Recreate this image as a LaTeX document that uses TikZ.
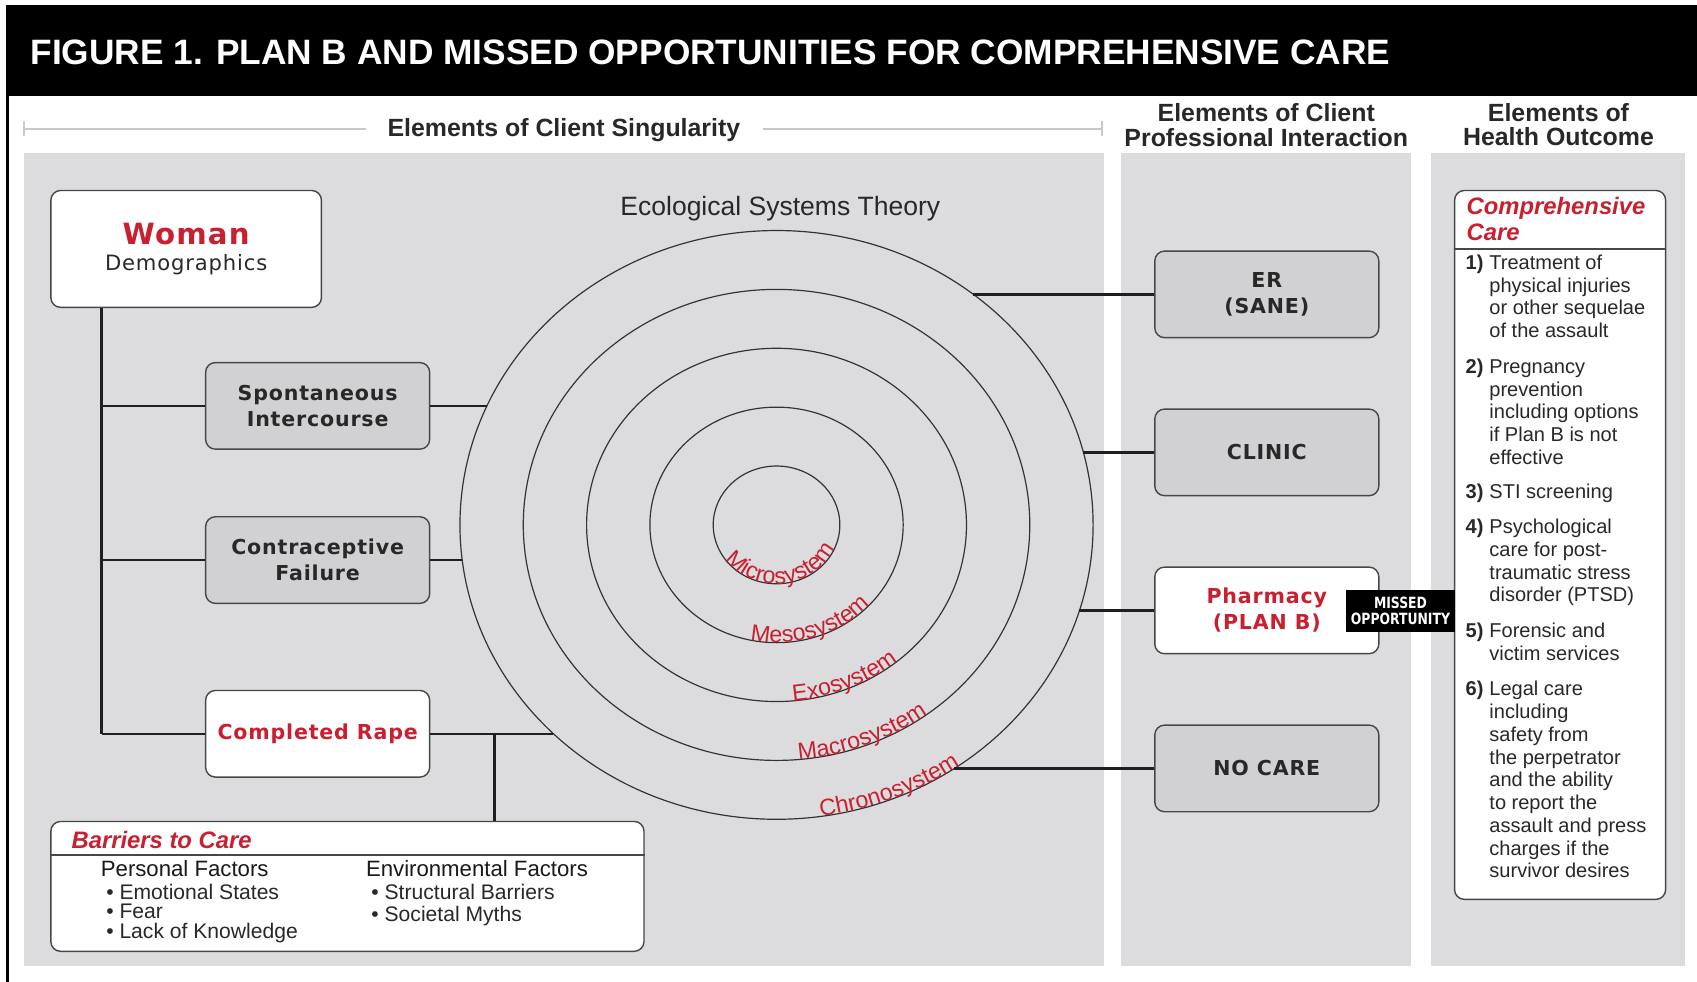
\documentclass[tikz,border=0pt]{standalone}
\usepackage{fontspec}
\usepackage{graphicx}
\setmainfont{Liberation Sans}
\newfontfamily\verd{DejaVu Sans}
\newfontfamily\verdsp[LetterSpace=4]{DejaVu Sans}
\usetikzlibrary{decorations.text}
\newcommand\fsx[2]{\fontsize{#1}{#2}\selectfont}
\definecolor{panel}{RGB}{220,220,222}
\definecolor{boxg}{RGB}{209,209,211}
\definecolor{redc}{RGB}{200,32,48}
\definecolor{lineg}{RGB}{200,200,200}
\definecolor{txt}{RGB}{40,40,40}
\tikzset{
  conn/.style={line width=2.3pt, draw=black!88},
  gbox/.style={draw=black!72, line width=1.3pt, rounded corners=9pt, fill=boxg,
    minimum width=207pt, minimum height=80pt, inner sep=0pt, align=center,
    text=txt, font=\verdsp\bfseries\fsx{19}{24}},
  wbox/.style={gbox, fill=white},
  hdr/.style={font=\bfseries\fsx{23}{23}, text=txt, inner sep=0pt, anchor=base},
  hline/.style={draw=lineg, line width=2pt},
  circ/.style={draw=black!80, line width=1.1pt},
  lbl/.style={inner sep=0pt, anchor=base west, text=txt},
  listt/.style={lbl, font=\fsx{18.5}{18.5}},
  listn/.style={lbl, font=\bfseries\fsx{18.5}{18.5}},
  barr/.style={lbl, font=\fsx{19.5}{19.5}},
  curv/.style={decorate, decoration={text along path, text align=left, text={#1}}},
}
\begin{document}
\begin{tikzpicture}[x=1pt,y=1pt]
\useasboundingbox (0,0) rectangle (1568,-907);
\fill[white] (0,0) rectangle (1568,-907);
% header band
\fill[black] (6,-5) rectangle (1568,-89);
\node[anchor=base west, text=white, font=\bfseries\fsx{32.6}{33}, inner sep=0pt] (title) at (28,-60)
  {FIGURE 1. PLAN B AND MISSED OPPORTUNITIES FOR COMPREHENSIVE CARE};
\draw[line width=2pt] (7,-89) -- (7,-907);
% column headers
\node[hdr] (h1) at (521,-126) {Elements of Client Singularity};
\draw[hline] (22,-119) -- (338,-119);
\draw[hline] (705,-119) -- (1018,-119);
\draw[hline] (22,-112) -- (22,-126);
\draw[hline] (1018,-112) -- (1018,-126);
\node[hdr] (h2a) at (1170,-112) {Elements of Client};
\node[hdr] (h2b) at (1170,-135) {Professional Interaction};
\node[hdr] (h3a) at (1440,-112) {Elements of};
\node[hdr] (h3b) at (1440,-134) {Health Outcome};
% panels
\fill[panel] (22,-141) rectangle (1020,-893);
\fill[panel] (1036,-141) rectangle (1304,-893);
\fill[panel] (1322,-141) rectangle (1557,-893);
% ecological systems
\node[anchor=base, inner sep=0pt, text=txt, font=\fsx{24.5}{24.5}] (est) at (721,-199) {Ecological Systems Theory};
\foreach \i in {1,...,5}
  \draw[circ] (717.5,-485) ellipse [x radius=58.5*\i, y radius=54.4*\i];
\path[curv={|\color{redc}\fsx{21.5}{21.5}|Microsystem}] (717.5,-485) ++(216:58.5 and 54.4)
  arc[start angle=216, end angle=420, x radius=58.5, y radius=54.4];
\path[curv={|\color{redc}\fsx{21.5}{21.5}|Mesosystem}] (717.5,-485) ++(258:117 and 108.8)
  arc[start angle=258, end angle=380, x radius=117, y radius=108.8];
\path[curv={|\color{redc}\fsx{21.5}{21.5}|Exosystem}] (717.5,-485) ++(275:175.5 and 163.2)
  arc[start angle=275, end angle=360, x radius=175.5, y radius=163.2];
\path[curv={|\color{redc}\fsx{21.5}{21.5}|Macrosystem}] (717.5,-485) ++(275:234 and 217.6)
  arc[start angle=275, end angle=350, x radius=234, y radius=217.6];
\path[curv={|\color{redc}\fsx{21.5}{21.5}|Chronosystem}] (717.5,-485) ++(278:292.5 and 272)
  arc[start angle=278, end angle=345, x radius=292.5, y radius=272];
% left boxes
\node[draw=black!72, line width=1.3pt, rounded corners=9pt, fill=white,
  minimum width=250pt, minimum height=108pt, inner sep=0pt] (woman) at (172,-230) {};
\node[anchor=base, inner sep=0pt, text=redc, font=\verdsp\bfseries\fsx{27}{27}] (womant) at (172,-226) {Woman};
\node[anchor=base, inner sep=0pt, text=txt, font=\verdsp\fsx{19.5}{19.5}] (demo) at (172,-250) {Demographics};
\node[gbox] (spont) at (293.5,-375) {Spontaneous\\Intercourse};
\node[gbox] (contra) at (293.5,-517.5) {Contraceptive\\Failure};
\node[wbox, text=redc] (rape) at (293.5,-678) {Completed Rape};
% barriers box
\node[draw=black!72, line width=1.3pt, rounded corners=9pt, fill=white,
  minimum width=548pt, minimum height=120pt, inner sep=0pt] (barriers) at (321,-819) {};
\draw[line width=1.3pt, black!72] (barriers.west |- 0,-790) -- (barriers.east |- 0,-790);
\node[lbl, text=redc, font=\bfseries\itshape\fsx{22}{22}] (bt) at (66,-784) {Barriers to Care};
\node[barr, font=\fsx{20.5}{20.5}, text=black!90] (pf) at (93,-810) {Personal Factors};
\node[barr] (pf1) at (98,-831) {• Emotional States};
\node[barr] (pf2) at (98,-849) {• Fear};
\node[barr] (pf3) at (98,-867) {• Lack of Knowledge};
\node[barr, font=\fsx{20.5}{20.5}, text=black!90] (ef) at (338,-810) {Environmental Factors};
\node[barr] (ef1) at (343,-831) {• Structural Barriers};
\node[barr] (ef2) at (343,-851) {• Societal Myths};
% left connectors
\coordinate (trunk) at (94,-678);
\draw[conn] (woman.south -| trunk) -- (trunk);
\draw[conn] (spont.west -| trunk) -- (spont.west);
\draw[conn] (contra.west -| trunk) -- (contra.west);
\draw[conn] (trunk) -- (rape.west);
\coordinate (s1) at (450,-375);
\coordinate (s2) at (427.1,-517.5);
\coordinate (s3) at (511.4,-678);
\coordinate (tj) at (457,-678);
\draw[conn] (spont.east) -- (s1);
\draw[conn] (contra.east) -- (s2);
\draw[conn] (rape.east) -- (s3);
\draw[conn] (tj) -- (barriers.north -| tj);
% middle boxes
\node[gbox] (er) at (1170.5,-272) {ER\\(SANE)};
\node[gbox] (clinic) at (1170.5,-418) {CLINIC};
\node[wbox, text=redc] (pharm) at (1170.5,-564) {Pharmacy\\(PLAN B)};
\node[gbox] (nocare) at (1170.5,-710) {NO CARE};
\coordinate (e1) at (899.4,-272);
\coordinate (e2) at (1001,-418);
\coordinate (e3) at (997.4,-564);
\coordinate (e4) at (881.9,-710);
\draw[conn] (e1) -- (er.west);
\draw[conn] (e2) -- (clinic.west);
\draw[conn] (e3) -- (pharm.west);
\draw[conn] (e4) -- (nocare.west);
% comprehensive care box
\node[draw=black!72, line width=1.3pt, rounded corners=9pt, fill=white,
  minimum width=195pt, minimum height=655pt, inner sep=0pt] (cc) at (1441.5,-503.5) {};
\draw[line width=1.3pt, black!72] (cc.west |- 0,-230) -- (cc.east |- 0,-230);
\node[lbl, text=redc, font=\bfseries\itshape\fsx{22}{22}] (cct1) at (1355,-198) {Comprehensive};
\node[lbl, text=redc, font=\bfseries\itshape\fsx{22}{22}] (cct2) at (1355,-222) {Care};
\foreach \yy/\nn in {249/1,345/2,461/3,493/4,589/5,643/6}
  \node[listn] at (1354,-\yy) {\nn)};
\foreach \yy/\tx in {249/Treatment of, 270/physical injuries, 291/or other sequelae, 312/of the assault,
  345/Pregnancy, 366/prevention, 387/including options, 408/if Plan B is not, 429/effective,
  461/STI screening,
  493/Psychological, 514/care for post-, 535/traumatic stress, 556/disorder (PTSD),
  589/Forensic and, 610/victim services,
  643/Legal care, 664/including, 685/safety from, 706/the perpetrator, 727/and the ability,
  748/to report the, 769/assault and press, 790/charges if the, 811/survivor desires}
  \node[listt] at (1376,-\yy) {\tx};
% missed opportunity tag
\node[fill=black, text=white, minimum width=100pt, minimum height=39pt, inner sep=0pt, align=center,
  font=\verd\bfseries\fsx{13}{14.5}] (missed) at (1294,-564.5)
  {\scalebox{0.88}[1.1]{MISSED}\\\scalebox{0.88}[1.1]{OPPORTUNITY}};
\end{tikzpicture}
\end{document}
